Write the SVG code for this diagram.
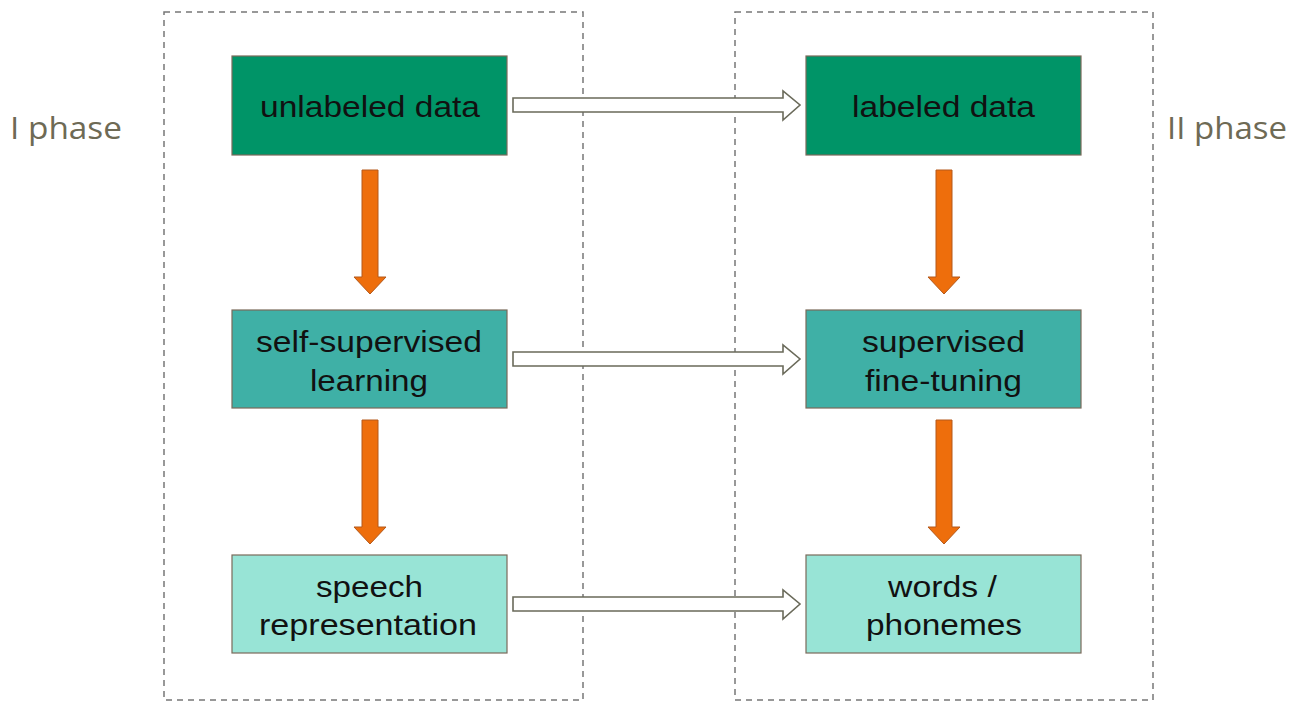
<svg xmlns="http://www.w3.org/2000/svg" width="1306" height="704" viewBox="0 0 1306 704">
<defs>
<style>
.phase{fill:none;stroke:#777;stroke-width:1.5;stroke-dasharray:6,5}
.lbl{font-family:"Open Sans",sans-serif;font-size:31px;fill:#6e6a55}
.node rect{stroke:#7a6a5a;stroke-width:1.2}
.node text{font-family:"Liberation Sans",Arial,sans-serif;font-size:30px;fill:#111;text-anchor:middle}
.dark{fill:#009467}
.mid{fill:#3fb0a6}
.light{fill:#98e4d6}
.down{fill:#ee6e0c;stroke:#b4581a;stroke-width:1}
.right{fill:#fff;stroke:#6a6a5a;stroke-width:1.6}
</style>
</defs>
<rect width="1306" height="704" fill="#fff"/>
<rect class="phase" x="164" y="12" width="419" height="688"/>
<rect class="phase" x="735" y="12" width="418" height="688"/>
<text class="lbl" x="10" y="139" textLength="112" lengthAdjust="spacingAndGlyphs">I phase</text>
<text class="lbl" x="1167" y="139" textLength="120" lengthAdjust="spacingAndGlyphs">II phase</text>
<g id="n1" class="node"><rect class="dark" x="232" y="56" width="275" height="99"/><text x="370" y="117" textLength="220" lengthAdjust="spacingAndGlyphs">unlabeled data</text></g>
<g id="n2" class="node"><rect class="mid" x="232" y="310" width="275" height="98"/><text x="369" y="352" textLength="226" lengthAdjust="spacingAndGlyphs">self-supervised</text><text x="369" y="391" textLength="118" lengthAdjust="spacingAndGlyphs">learning</text></g>
<g id="n3" class="node"><rect class="light" x="232" y="555" width="275" height="98"/><text x="369.5" y="597" textLength="107" lengthAdjust="spacingAndGlyphs">speech</text><text x="368" y="635" textLength="218" lengthAdjust="spacingAndGlyphs">representation</text></g>
<g id="n4" class="node"><rect class="dark" x="806" y="56" width="275" height="99"/><text x="943.5" y="117" textLength="183" lengthAdjust="spacingAndGlyphs">labeled data</text></g>
<g id="n5" class="node"><rect class="mid" x="806" y="310" width="275" height="98"/><text x="943.5" y="352" textLength="163" lengthAdjust="spacingAndGlyphs">supervised</text><text x="943.5" y="391" textLength="157" lengthAdjust="spacingAndGlyphs">fine-tuning</text></g>
<g id="n6" class="node"><rect class="light" x="806" y="555" width="275" height="98"/><text x="942.5" y="597" textLength="109" lengthAdjust="spacingAndGlyphs">words /</text><text x="944" y="635" textLength="156" lengthAdjust="spacingAndGlyphs">phonemes</text></g>
<g id="connectors">
<path class="down" d="M362,170 H378 V277 H386 L370,294 L354,277 H362 Z"/>
<path class="down" d="M362,420 H378 V527 H386 L370,544 L354,527 H362 Z"/>
<path class="down" d="M936,170 H952 V277 H960 L944,294 L928,277 H936 Z"/>
<path class="down" d="M936,420 H952 V527 H960 L944,544 L928,527 H936 Z"/>
<path class="right" d="M513,98 H783 V91 L800,105 L783,120 V112 H513 Z"/>
<path class="right" d="M513,352 H783 V345 L800,359 L783,374 V366 H513 Z"/>
<path class="right" d="M513,597 H783 V590 L800,604 L783,619 V611 H513 Z"/>
</g>
</svg>
